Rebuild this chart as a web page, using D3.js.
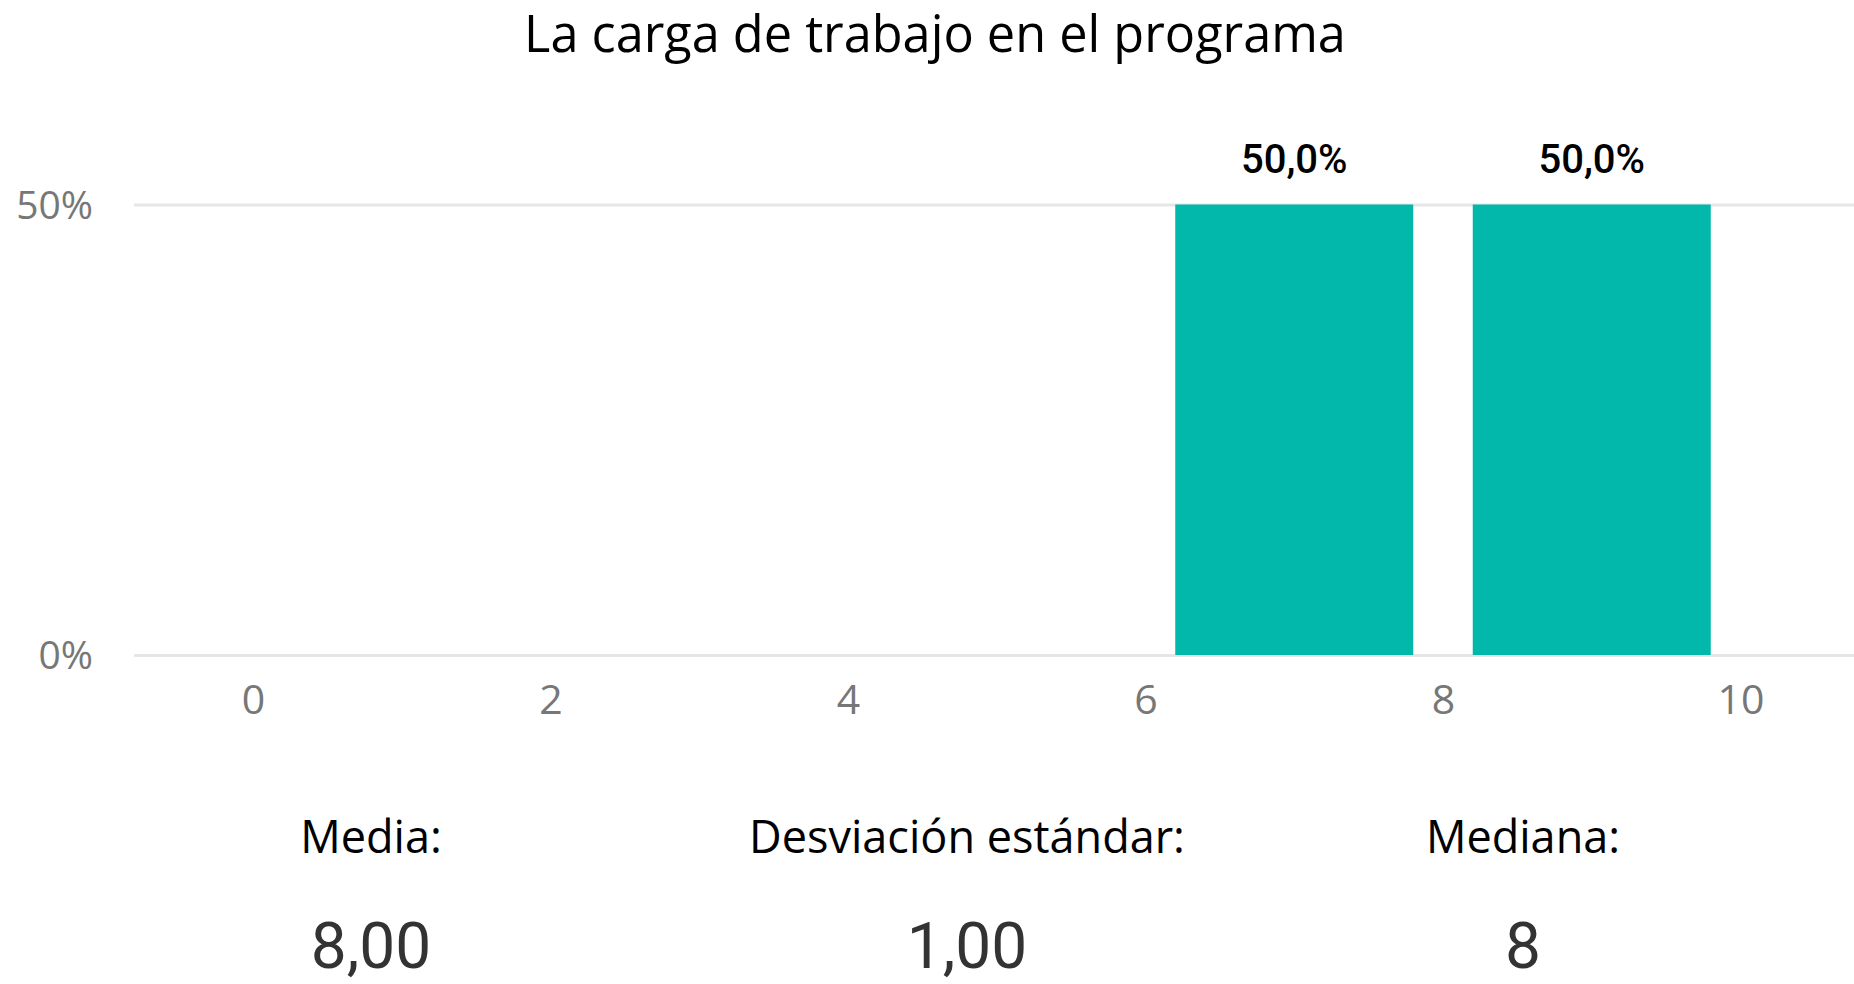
<!DOCTYPE html>
<html>
<head>
<meta charset="utf-8">
<script src="https://cdn.jsdelivr.net/npm/d3@7"></script>
<style>
  html, body { margin: 0; padding: 0; background: #fff; }
  svg { display: block; }
</style>
</head>
<body>
<svg id="chart" width="1854" height="984"></svg>
<script>
// ---- data ----
const title = "La carga de trabajo en el programa";
const binStart = [6, 8];
const binEnd = [8, 10];
const shares = [0.5, 0.5];
const barLabels = ["50,0%", "50,0%"];
const xTicks = [0, 2, 4, 6, 8, 10];
const yTicks = [0, 0.5];
const yTickLabels = ["0%", "50%"];
const statLabels = ["Media:", "Desviación estándar:", "Mediana:"];
const statValues = ["8,00", "1,00", "8"];

// ---- layout ----
const W = 1854, H = 984;
const svg = d3.select("#chart");
const x = d3.scaleLinear().domain([0, 10]).range([253, 1740.5]);
const y = d3.scaleLinear().domain([0, 0.5]).range([655, 204.5]);
const gridX0 = 134, gridX1 = W;
const barPad = 0.2;
const sans = "'Open Sans', 'Noto Sans', sans-serif";
const cond = "Roboto, 'DejaVu Sans Condensed', sans-serif";

function fitWidth(sel, target) {
  const w = sel.node().getComputedTextLength();
  const fs = parseFloat(sel.attr("font-size"));
  const nfs = fs * target / w;
  sel.attr("font-size", nfs.toFixed(2));
  return nfs;
}

// title
const t = svg.append("text")
  .attr("x", 935).attr("y", 52)
  .attr("text-anchor", "middle")
  .attr("font-family", sans).attr("font-size", 50)
  .attr("fill", "#000")
  .text(title);
fitWidth(t, 822);

// y gridlines + labels via axis
const yAxis = d3.axisLeft(y)
  .tickValues(yTicks)
  .tickFormat((d, i) => yTickLabels[i])
  .tickSize(-(gridX1 - gridX0))
  .tickPadding(41);
const gy = svg.append("g").attr("transform", `translate(${gridX0},0)`).call(yAxis);
gy.select(".domain").remove();
gy.selectAll(".tick line").attr("stroke", "#e6e6e6").attr("stroke-width", 3);
gy.selectAll(".tick text")
  .attr("font-family", sans).attr("font-size", 39)
  .attr("fill", "#777").attr("dy", "0.35em");

// bars
svg.append("g").selectAll("rect")
  .data(shares)
  .join("rect")
  .attr("x", (d, i) => x(binStart[i] + barPad))
  .attr("width", (d, i) => x(binEnd[i] - barPad) - x(binStart[i] + barPad))
  .attr("y", d => y(d))
  .attr("height", d => y(0) - y(d))
  .attr("fill", "#02B8AB");

// bar labels
svg.append("g").selectAll("text")
  .data(shares)
  .join("text")
  .attr("x", (d, i) => x((binStart[i] + binEnd[i]) / 2))
  .attr("y", d => y(d) - 32)
  .attr("text-anchor", "middle")
  .attr("font-family", cond).attr("font-weight", 500).attr("font-size", 40)
  .attr("fill", "#000")
  .text((d, i) => barLabels[i]);

// x axis labels
const xAxis = d3.axisBottom(x).tickValues(xTicks).tickSize(0).tickPadding(0).tickFormat(d3.format("d"));
const gx = svg.append("g").attr("transform", `translate(0,${y(0)})`).call(xAxis);
gx.select(".domain").remove();
gx.selectAll(".tick text")
  .attr("font-family", sans).attr("font-size", 41)
  .attr("fill", "#777").attr("y", 59).attr("dy", 0);

// stats cards
const statX = [371, 967, 1523];
const cards = svg.append("g").selectAll("g")
  .data(statLabels)
  .join("g")
  .attr("transform", (d, i) => `translate(${statX[i]},0)`);
const labs = cards.append("text")
  .attr("y", 853)
  .attr("text-anchor", "middle")
  .attr("font-family", sans).attr("font-size", 46)
  .attr("fill", "#000")
  .text(d => d);
// fit the longest label's width, apply same size to all
const longest = labs.filter((d, i) => i === 1);
const lfs = fitWidth(longest, 436);
labs.attr("font-size", lfs.toFixed(2));
cards.append("text")
  .attr("y", 968)
  .attr("text-anchor", "middle")
  .attr("font-family", cond).attr("font-size", 64)
  .attr("fill", "#333")
  .text((d, i) => statValues[i]);
</script>
</body>
</html>
